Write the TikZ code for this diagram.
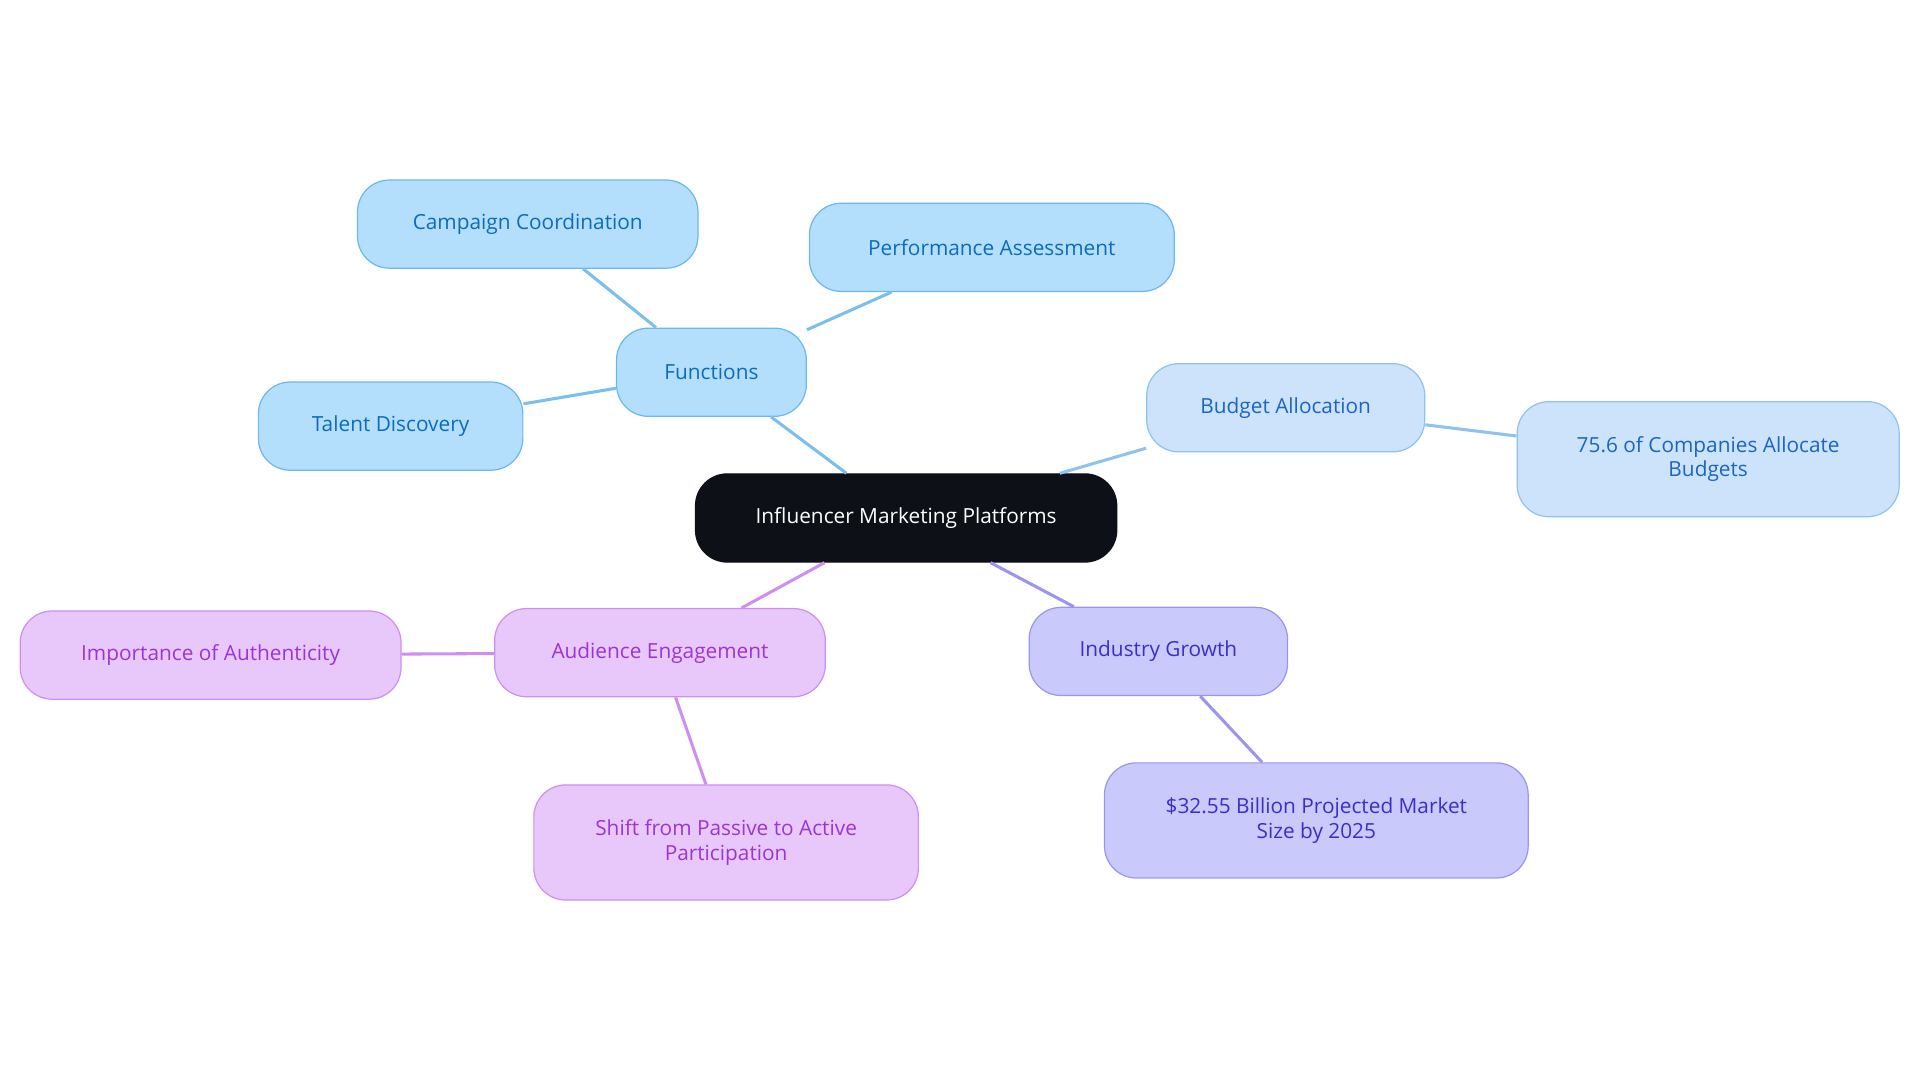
\documentclass[tikz,border=0pt]{standalone}
\usepackage{fontspec}
\setmainfont{Open Sans}
\definecolor{bfill}{HTML}{B3DFFC}\definecolor{bdraw}{HTML}{6CB8EE}\definecolor{btext}{HTML}{0B6CBF}
\definecolor{lfill}{HTML}{CDE3FB}\definecolor{ldraw}{HTML}{90C2F0}\definecolor{ltext}{HTML}{1A66C4}
\definecolor{pfill}{HTML}{E8C8FB}\definecolor{pdraw}{HTML}{CF8EF0}\definecolor{ptext}{HTML}{9B35D4}
\definecolor{vfill}{HTML}{C9C9FC}\definecolor{vdraw}{HTML}{9B95EF}\definecolor{vtext}{HTML}{3A2FC9}
\definecolor{rootc}{HTML}{0D1117}
\tikzset{
 box/.style={rounded corners=26pt,line width=1pt,align=center,font=\fontsize{17}{20}\selectfont,inner sep=0pt},
 bl/.style={box,fill=bfill,draw=bdraw,text=btext},
 lb/.style={box,fill=lfill,draw=ldraw,text=ltext},
 pu/.style={box,fill=pfill,draw=pdraw,text=ptext},
 vi/.style={box,fill=vfill,draw=vdraw,text=vtext},
 con/.style={line width=2.5pt}
}
\begin{document}
\begin{tikzpicture}[x=1pt,y=1pt]
\useasboundingbox (0,0) rectangle (1568,-884);
\node[box,fill=rootc,draw=rootc,text=white,minimum width=344pt,minimum height=72pt] (root) at (740,-423) {Influencer Marketing Platforms};
\node[bl,minimum width=155pt,minimum height=72pt] (fun) at (581,-304) {Functions};
\node[bl,minimum width=278pt,minimum height=72pt] (cc) at (431,-183) {Campaign Coordination};
\node[bl,minimum width=298pt,minimum height=72pt] (pa) at (810,-202) {Performance Assessment};
\node[bl,minimum width=216pt,minimum height=72pt] (td) at (319,-348) {Talent Discovery};
\node[lb,minimum width=227pt,minimum height=72pt] (ba) at (1050,-333) {Budget Allocation};
\node[lb,minimum width=312pt,minimum height=94pt] (pc) at (1395,-375) {75.6 of Companies Allocate\\Budgets};
\node[pu,minimum width=270pt,minimum height=72pt] (ae) at (539,-533) {Audience Engagement};
\node[pu,minimum width=311pt,minimum height=72pt] (ia) at (172,-535) {Importance of Authenticity};
\node[pu,minimum width=314pt,minimum height=94pt] (sh) at (593,-688) {Shift from Passive to Active\\Participation};
\node[vi,minimum width=211pt,minimum height=72pt] (ig) at (946,-532) {Industry Growth};
\node[vi,minimum width=346pt,minimum height=94pt] (ms) at (1075,-670) {\$32.55 Billion Projected Market\\Size by 2025};
\draw[con,draw=bdraw!90] (root) -- (fun);
\draw[con,draw=bdraw!90] (fun) -- (cc);
\draw[con,draw=bdraw!90] (fun) -- (pa);
\draw[con,draw=bdraw!90] (fun) -- (td);
\draw[con,draw=ldraw] (root) -- (ba);
\draw[con,draw=ldraw] (ba) -- (pc);
\draw[con,draw=pdraw] (root) -- (ae);
\draw[con,draw=pdraw] (ae) -- (ia);
\draw[con,draw=pdraw] (ae) -- (sh);
\draw[con,draw=vdraw] (root) -- (ig);
\draw[con,draw=vdraw] (ig) -- (ms);
\end{tikzpicture}
\end{document}
